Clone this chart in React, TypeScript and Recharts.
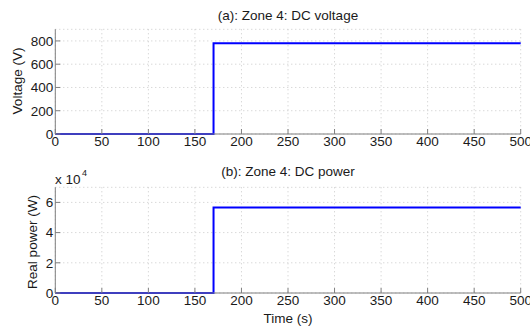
import React from 'react';
import { LineChart, Line, XAxis, YAxis, CartesianGrid } from 'recharts';

const timeTicks = [0, 50, 100, 150, 200, 250, 300, 350, 400, 450, 500];
const voltageTicks = [0, 200, 400, 600, 800];
const powerTicks = [0, 20000, 40000, 60000];

const times = [0, 170, 500];
const voltage = [0, 780, 780];
const power = [0, 56700, 56700];

const voltageData = times.map((t, i) => ({ t, v: voltage[i] }));
const powerData = times.map((t, i) => ({ t, p: power[i] }));

const FONT = '"Liberation Sans", Arial, sans-serif';
const FS = 13.5;
const AXIS = '#7f7f7f';
const tickStyle = { fontSize: FS, fontFamily: FONT, fill: '#1a1a1a' };
const empty = () => '';

function Panel({ data, dataKey, yDomain, yTicks, yFmt, top, bottomH }: any) {
  return (
    <LineChart
      width={530}
      height={164}
      data={data}
      margin={{ top, right: 9.3, bottom: 0, left: 10.3 }}
    >
      <CartesianGrid stroke="#c8c8c8" strokeDasharray="1 3" />
      <XAxis
        dataKey="t"
        type="number"
        domain={[0, 500]}
        ticks={timeTicks}
        height={bottomH}
        tickSize={-5}
        tickMargin={7.4}
        tick={tickStyle}
        axisLine={{ stroke: AXIS }}
        tickLine={{ stroke: AXIS }}
        interval={0}
      />
      <XAxis
        xAxisId="top"
        orientation="top"
        dataKey="t"
        type="number"
        domain={[0, 500]}
        ticks={timeTicks}
        height={0}
        tickSize={-5}
        tickFormatter={empty}
        axisLine={{ stroke: AXIS }}
        tickLine={{ stroke: AXIS }}
        interval={0}
      />
      <YAxis
        type="number"
        domain={yDomain}
        ticks={yTicks}
        width={45}
        tickSize={-5}
        tickMargin={7}
        tick={tickStyle}
        tickFormatter={yFmt}
        axisLine={{ stroke: AXIS }}
        tickLine={{ stroke: AXIS }}
        interval={0}
      />
      <YAxis
        yAxisId="right"
        orientation="right"
        type="number"
        domain={yDomain}
        ticks={yTicks}
        width={0}
        tickSize={-5}
        tickFormatter={empty}
        axisLine={{ stroke: AXIS }}
        tickLine={{ stroke: AXIS }}
        interval={0}
      />
      <Line
        type="stepAfter"
        dataKey={dataKey}
        stroke="#0000ff"
        strokeWidth={2}
        dot={false}
        activeDot={false}
        isAnimationActive={false}
      />
    </LineChart>
  );
}

export default function App() {
  const textProps = { fontFamily: FONT, fontSize: FS, fill: '#1a1a1a', dominantBaseline: 'central' as const };
  return (
    <div style={{ position: 'absolute', left: 0, top: 0, width: 530, height: 328, background: '#fff' }}>
      <Panel
        data={voltageData}
        dataKey="v"
        yDomain={[0, 900]}
        yTicks={voltageTicks}
        yFmt={(v: number) => String(v)}
        top={29.3}
        bottomH={30}
      />
      <Panel
        data={powerData}
        dataKey="p"
        yDomain={[0, 70000]}
        yTicks={powerTicks}
        yFmt={(v: number) => String(v / 10000)}
        top={23.3}
        bottomH={35}
      />
      <svg
        width={530}
        height={328}
        style={{ position: 'absolute', left: 0, top: 0, pointerEvents: 'none' }}
      >
        <text x={288} y={15} textAnchor="middle" {...textProps}>(a): Zone 4: DC voltage</text>
        <text x={288} y={171} textAnchor="middle" {...textProps}>(b): Zone 4: DC power</text>
        <text x={288} y={318} textAnchor="middle" {...textProps}>Time (s)</text>
        <text x={17.5} y={81} textAnchor="middle" transform="rotate(-90 17.5 81)" {...textProps}>Voltage (V)</text>
        <text x={32.5} y={242} textAnchor="middle" transform="rotate(-90 32.5 242)" {...textProps}>Real power (W)</text>
        <text x={55} y={179} textAnchor="start" {...textProps}>x 10</text>
        <text x={82} y={173} textAnchor="start" {...textProps} fontSize={9}>4</text>
      </svg>
    </div>
  );
}
